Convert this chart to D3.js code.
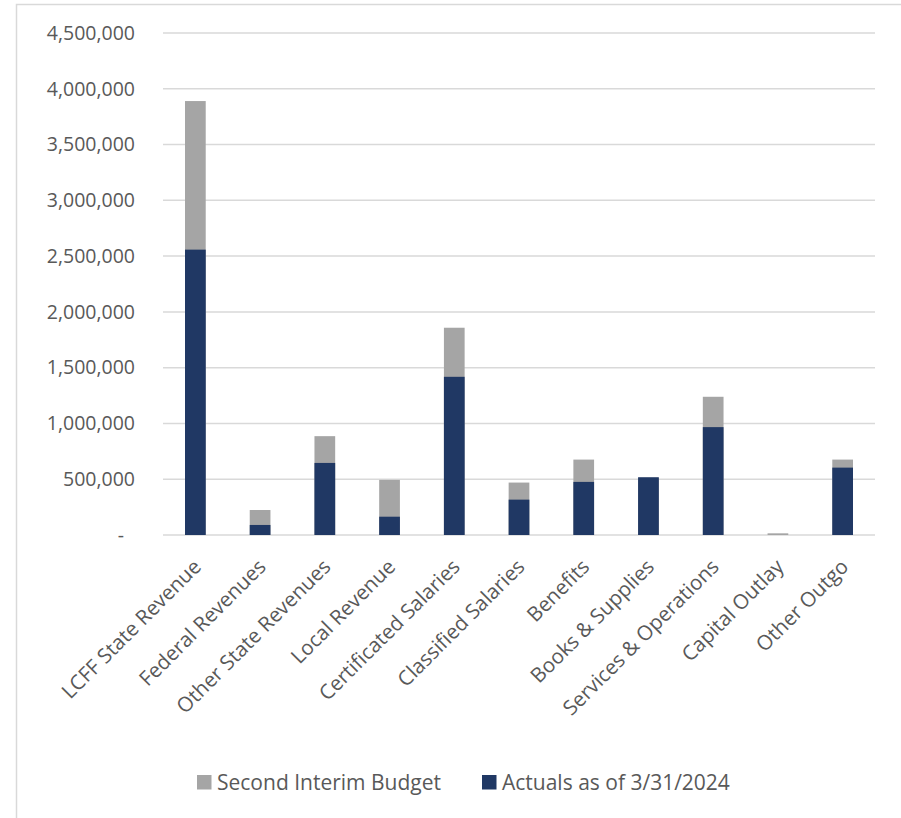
<!DOCTYPE html>
<html>
<head>
<meta charset="utf-8">
<script src="https://cdn.jsdelivr.net/npm/d3@7"></script>
<style>
  body { margin: 0; background: #fff; }
  text { font-family: "Open Sans", sans-serif; fill: #595959; }
</style>
</head>
<body>
<div id="chart"></div>
<script>
// values
var categories = ["LCFF State Revenue", "Federal Revenues", "Other State Revenues", "Local Revenue",
  "Certificated Salaries", "Classified Salaries", "Benefits", "Books & Supplies",
  "Services & Operations", "Capital Outlay", "Other Outgo"];
var budget = [3890000, 224000, 886000, 494000, 1858000, 470000, 676000, 510000, 1239000, 15000, 676000];
var actuals = [2558000, 90000, 646000, 164000, 1418000, 317000, 476000, 518000, 967000, 0, 604000];
var yTicks = [0, 500000, 1000000, 1500000, 2000000, 2500000, 3000000, 3500000, 4000000, 4500000];
var seriesNames = ["Second Interim Budget", "Actuals as of 3/31/2024"];
var colors = ["#A5A5A5", "#203864"];

var W = 901, H = 818;
var svg = d3.select("#chart").append("svg").attr("width", W).attr("height", H);

// outer chart border
svg.append("rect").attr("x", 16.5).attr("y", 4.5).attr("width", W + 20).attr("height", H + 20)
  .attr("fill", "none").attr("stroke", "#D9D9D9").attr("stroke-width", 1.5);

var plotLeft = 163, plotRight = 875, plotTop = 33, plotBottom = 535;

var x = d3.scaleBand().domain(categories).range([plotLeft, plotRight]).paddingInner(0.68).paddingOuter(0.34);
var y = d3.scaleLinear().domain([0, 4500000]).range([plotBottom, plotTop]);

// gridlines
svg.append("g").selectAll("line").data(yTicks).enter().append("line")
  .attr("x1", plotLeft).attr("x2", plotRight)
  .attr("y1", function(d){ return y(d); })
  .attr("y2", function(d){ return y(d); })
  .attr("stroke", "#D9D9D9").attr("stroke-width", 1.5);

// y axis labels
var yAxis = d3.axisLeft(y).tickValues(yTicks).tickSize(0).tickPadding(0)
  .tickFormat(function(d){ return d === 0 ? "-" : d3.format(",")(d); });
var gy = svg.append("g").attr("transform", "translate(135,0)").call(yAxis);
gy.select(".domain").remove();
gy.selectAll("text").attr("font-size", 19.5).attr("fill", "#595959").attr("font-family", "Open Sans")
  .attr("dx", function(d){ return d === 0 ? -11 : 0; });

// budget bars (behind)
svg.append("g").selectAll("rect").data(categories).enter().append("rect")
  .attr("x", function(d){ return x(d); })
  .attr("width", x.bandwidth())
  .attr("y", function(d, i){ return y(budget[i]); })
  .attr("height", function(d, i){ return y(0) - y(budget[i]); })
  .attr("fill", colors[0]);

// actual bars (front)
svg.append("g").selectAll("rect").data(categories).enter().append("rect")
  .attr("x", function(d){ return x(d); })
  .attr("width", x.bandwidth())
  .attr("y", function(d, i){ return y(actuals[i]); })
  .attr("height", function(d, i){ return y(0) - y(actuals[i]); })
  .attr("fill", colors[1]);

// category labels
svg.append("g").selectAll("text").data(categories).enter().append("text")
  .attr("transform", function(d){ return "translate(" + (x(d) + x.bandwidth() / 2 + 7) + "," + (plotBottom + 33) + ") rotate(-45)"; })
  .attr("text-anchor", "end")
  .style("font-size", "20.5px")
  .text(function(d){ return d; });

// legend
var legend = svg.append("g").attr("transform", "translate(0,790)");
var legendX = [197, 482];
seriesNames.forEach(function(name, i){
  legend.append("rect").attr("x", legendX[i]).attr("y", -15).attr("width", 14.5).attr("height", 14.5).attr("fill", colors[i]);
  legend.append("text").attr("x", legendX[i] + 20).attr("y", 0)
    .style("font-size", "21px").text(name);
});
</script>
</body>
</html>
